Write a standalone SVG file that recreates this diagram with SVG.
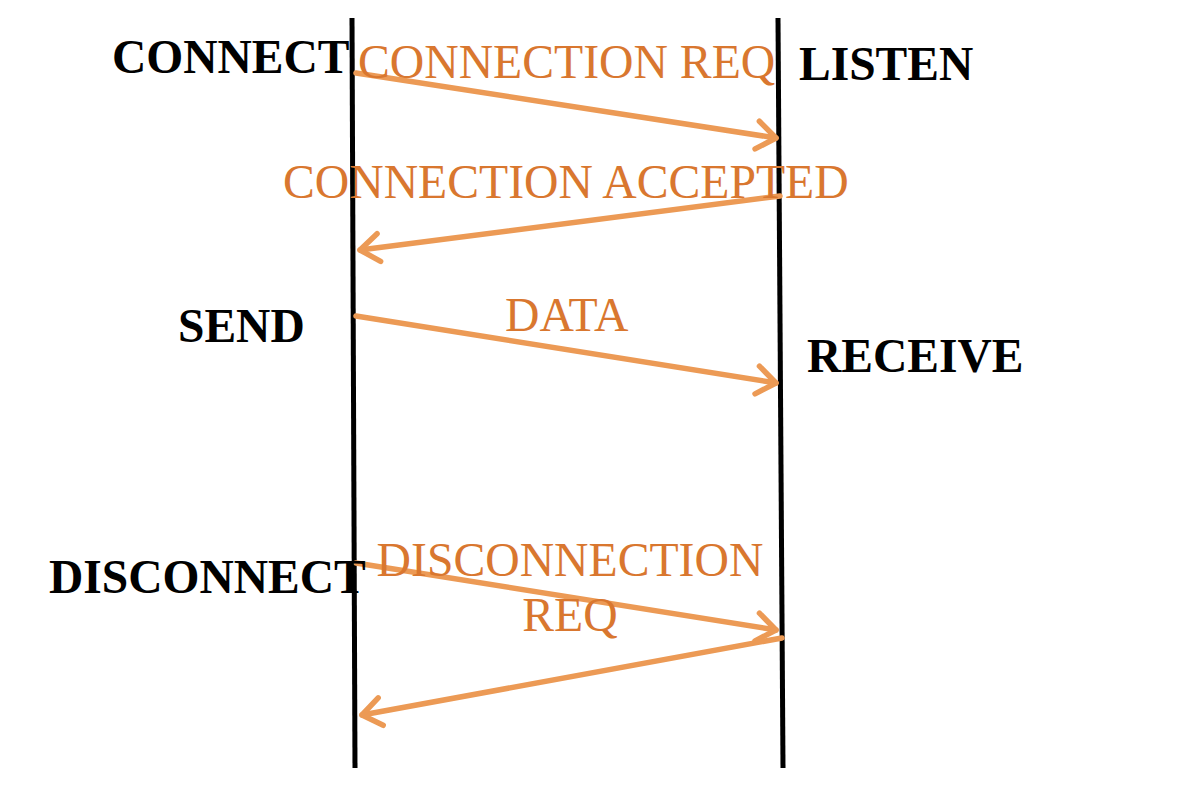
<svg xmlns="http://www.w3.org/2000/svg" width="1184" height="788" viewBox="0 0 1184 788">
<style>
.lbl{font-family:"Liberation Serif","Times New Roman",serif;font-weight:bold;font-size:47.5px;fill:#000}
.msg{font-family:"Liberation Serif","Times New Roman",serif;font-size:47.7px;fill:#D9772F}
.life{stroke:#000;stroke-width:5;fill:none}
.arr{stroke:#EC9A55;stroke-width:5.5;fill:none;stroke-linecap:round;marker-end:url(#ah)}
</style>
<defs>
<marker id="ah" markerUnits="userSpaceOnUse" markerWidth="40" markerHeight="40" refX="24" refY="20" orient="auto" viewBox="0 0 40 40">
<path d="M5 6 L24 20 L5 34" stroke="#EC9A55" stroke-width="5.5" fill="none" stroke-linecap="round" stroke-linejoin="round"/>
</marker>
</defs>
<rect width="1184" height="788" fill="#fff"/>
<g id="lifelines">
<line class="life" x1="352" y1="18" x2="355" y2="768"/>
<line class="life" x1="778" y1="18" x2="783" y2="768"/>
</g>
<g id="connectors">
<line class="arr" x1="356" y1="73" x2="776" y2="138"/>
<line class="arr" x1="780" y1="196" x2="360" y2="250"/>
<line class="arr" x1="356" y1="316" x2="776" y2="383"/>
<line class="arr" x1="356" y1="563" x2="776" y2="630"/>
<line class="arr" x1="782" y1="638" x2="362" y2="715"/>
</g>
<g id="connect"><text class="lbl" x="112" y="73">CONNECT</text></g>
<g id="listen"><text class="lbl" x="799" y="80">LISTEN</text></g>
<g id="send"><text class="lbl" x="178" y="342">SEND</text></g>
<g id="receive"><text class="lbl" x="807" y="372">RECEIVE</text></g>
<g id="disconnect"><text class="lbl" x="49" y="593">DISCONNECT</text></g>
<g id="msg-connreq"><text class="msg" x="358" y="78">CONNECTION REQ</text></g>
<g id="msg-accepted"><text class="msg" x="283" y="198">CONNECTION ACCEPTED</text></g>
<g id="msg-data"><text class="msg" x="505" y="331">DATA</text></g>
<g id="msg-disconn"><text class="msg" x="570" y="576" text-anchor="middle">DISCONNECTION</text><text class="msg" x="570" y="631" text-anchor="middle">REQ</text></g>
</svg>
